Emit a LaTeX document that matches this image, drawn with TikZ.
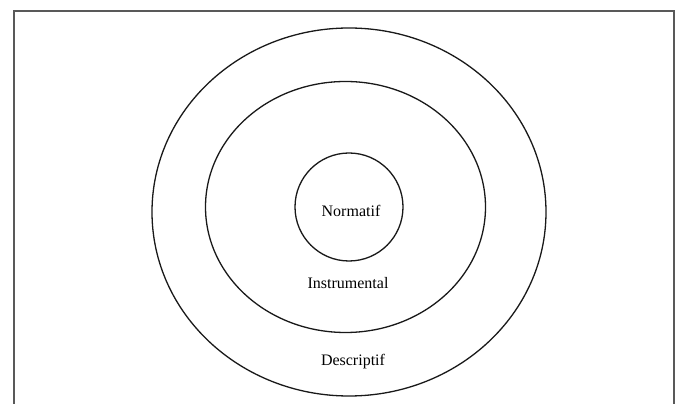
\documentclass[tikz,border=0pt]{standalone}
\usepackage{fontspec}
\setmainfont{Liberation Serif}
\usetikzlibrary{shapes.geometric}
\begin{document}
\begin{tikzpicture}[x=1pt,y=1pt,
  ring/.style={draw=black!90,line width=1.3pt,ellipse,inner sep=0pt},
  lbl/.style={font=\fontsize{16}{19}\selectfont,inner sep=0pt}]
\useasboundingbox (0,0) rectangle (678,404);
\coordinate (fbl) at (14,0);
\coordinate (ftl) at (14,393);
\coordinate (ftr) at (674,393);
\coordinate (fbr) at (674,0);
\draw[black!65,line width=1.5pt] (fbl) -- (ftl) -- (ftr) -- (fbr);
\node[ring,minimum width=394pt,minimum height=368pt] (outer) at (349,192) {};
\node[ring,minimum width=280pt,minimum height=251pt] (middle) at (345.5,197) {};
\node[ring,minimum width=108pt,minimum height=108pt] (inner) at (349,197) {};
\node[lbl] (norm) at (351,193) {Normatif};
\node[lbl] (instr) at (348,121) {Instrumental};
\node[lbl] (descr) at (353,42) {Descriptif};
\end{tikzpicture}
\end{document}
